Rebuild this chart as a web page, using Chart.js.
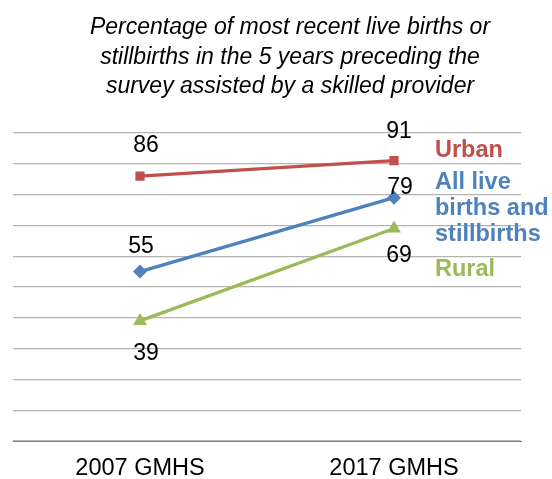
<!DOCTYPE html>
<html>
<head>
<meta charset="utf-8">
<script src="https://cdn.jsdelivr.net/npm/chart.js@4"></script>
<style>
html,body{margin:0;padding:0;background:#fff;}
#wrap{width:552px;height:479px;position:relative;}
</style>
</head>
<body>
<div id="wrap"><canvas id="c" width="552" height="479"></canvas></div>
<script>
const categories = ["2007 GMHS", "2017 GMHS"];
const urban = [86, 91];
const allBirths = [55, 79];
const rural = [39, 69];
const titleLines = [
  "Percentage of most recent live births or",
  "stillbirths in the 5 years preceding the",
  "survey assisted by a skilled provider"
];
const yTicks = {min: 0, max: 100, step: 10};

const RED = "#C0504D", BLUE = "#4F81BD", GREEN = "#9BBB59";
const FONT = "'Liberation Sans', Arial, sans-serif";

// label offsets [dx, dy] per dataset per point
const labelOffsets = [
  [[6, -30], [5, -29]],
  [[1, -25], [6, -10]],
  [[6, 33], [5, 27]]
];
const seriesLegend = [
  {lines: ["Urban"], color: RED, y: [151]},
  {lines: ["All live", "births and", "stillbirths"], color: BLUE, y: [183, 209, 235]},
  {lines: ["Rural"], color: GREEN, y: [270]}
];
const titleLayout = {x: 290, y: [28, 58, 87]};

const annot = {
  id: "annot",
  afterDatasetsDraw(chart) {
    const ctx = chart.ctx;
    ctx.save();
    ctx.textAlign = "center";
    ctx.textBaseline = "middle";
    ctx.fillStyle = "#000";
    ctx.font = "italic 23px " + FONT;
    titleLines.forEach((t, k) => ctx.fillText(t, titleLayout.x, titleLayout.y[k]));
    ctx.font = "23px " + FONT;
    chart.data.datasets.forEach((ds, i) => {
      const meta = chart.getDatasetMeta(i);
      meta.data.forEach((pt, j) => {
        const o = labelOffsets[i][j];
        ctx.fillText(String(ds.data[j]), pt.x + o[0], pt.y + o[1]);
      });
    });
    ctx.textAlign = "left";
    ctx.font = "bold 23.5px " + FONT;
    const lx = chart.chartArea.right - 86;
    seriesLegend.forEach(s => {
      ctx.fillStyle = s.color;
      s.lines.forEach((t, k) => ctx.fillText(t, lx, s.y[k]));
    });
    ctx.restore();
  }
};

new Chart(document.getElementById("c"), {
  type: "line",
  data: {
    labels: categories,
    datasets: [
      {label: "Urban", data: urban, borderColor: RED, backgroundColor: RED, borderWidth: 3.3,
       pointStyle: "rect", pointRadius: 6.5, pointBorderWidth: 0},
      {label: "All live births and stillbirths", data: allBirths, borderColor: BLUE, backgroundColor: BLUE, borderWidth: 3.3,
       pointStyle: "rectRot", pointRadius: 7, pointBorderWidth: 0},
      {label: "Rural", data: rural, borderColor: GREEN, backgroundColor: GREEN, borderWidth: 3.3,
       pointStyle: "triangle", pointRadius: 8, pointBorderWidth: 0}
    ]
  },
  options: {
    responsive: false,
    animation: false,
    events: [],
    layout: {padding: {left: 13, right: 31, top: 133, bottom: 0}},
    plugins: {
      legend: {display: false},
      tooltip: {enabled: false},
      title: {display: false}
    },
    scales: {
      x: {
        offset: true,
        grid: {display: false, drawTicks: false},
        border: {display: true, color: "#808080", width: 1},
        ticks: {color: "#000", padding: 16, font: {family: FONT, size: 23.5, lineHeight: 1.0}},
        afterFit(scale) { scale.height = 38; }
      },
      y: {
        min: yTicks.min, max: yTicks.max,
        grid: {color: "#b4b4b4", lineWidth: 1.3, drawTicks: false},
        border: {display: false},
        ticks: {display: false, stepSize: yTicks.step}
      }
    }
  },
  plugins: [annot]
});
</script>
</body>
</html>
